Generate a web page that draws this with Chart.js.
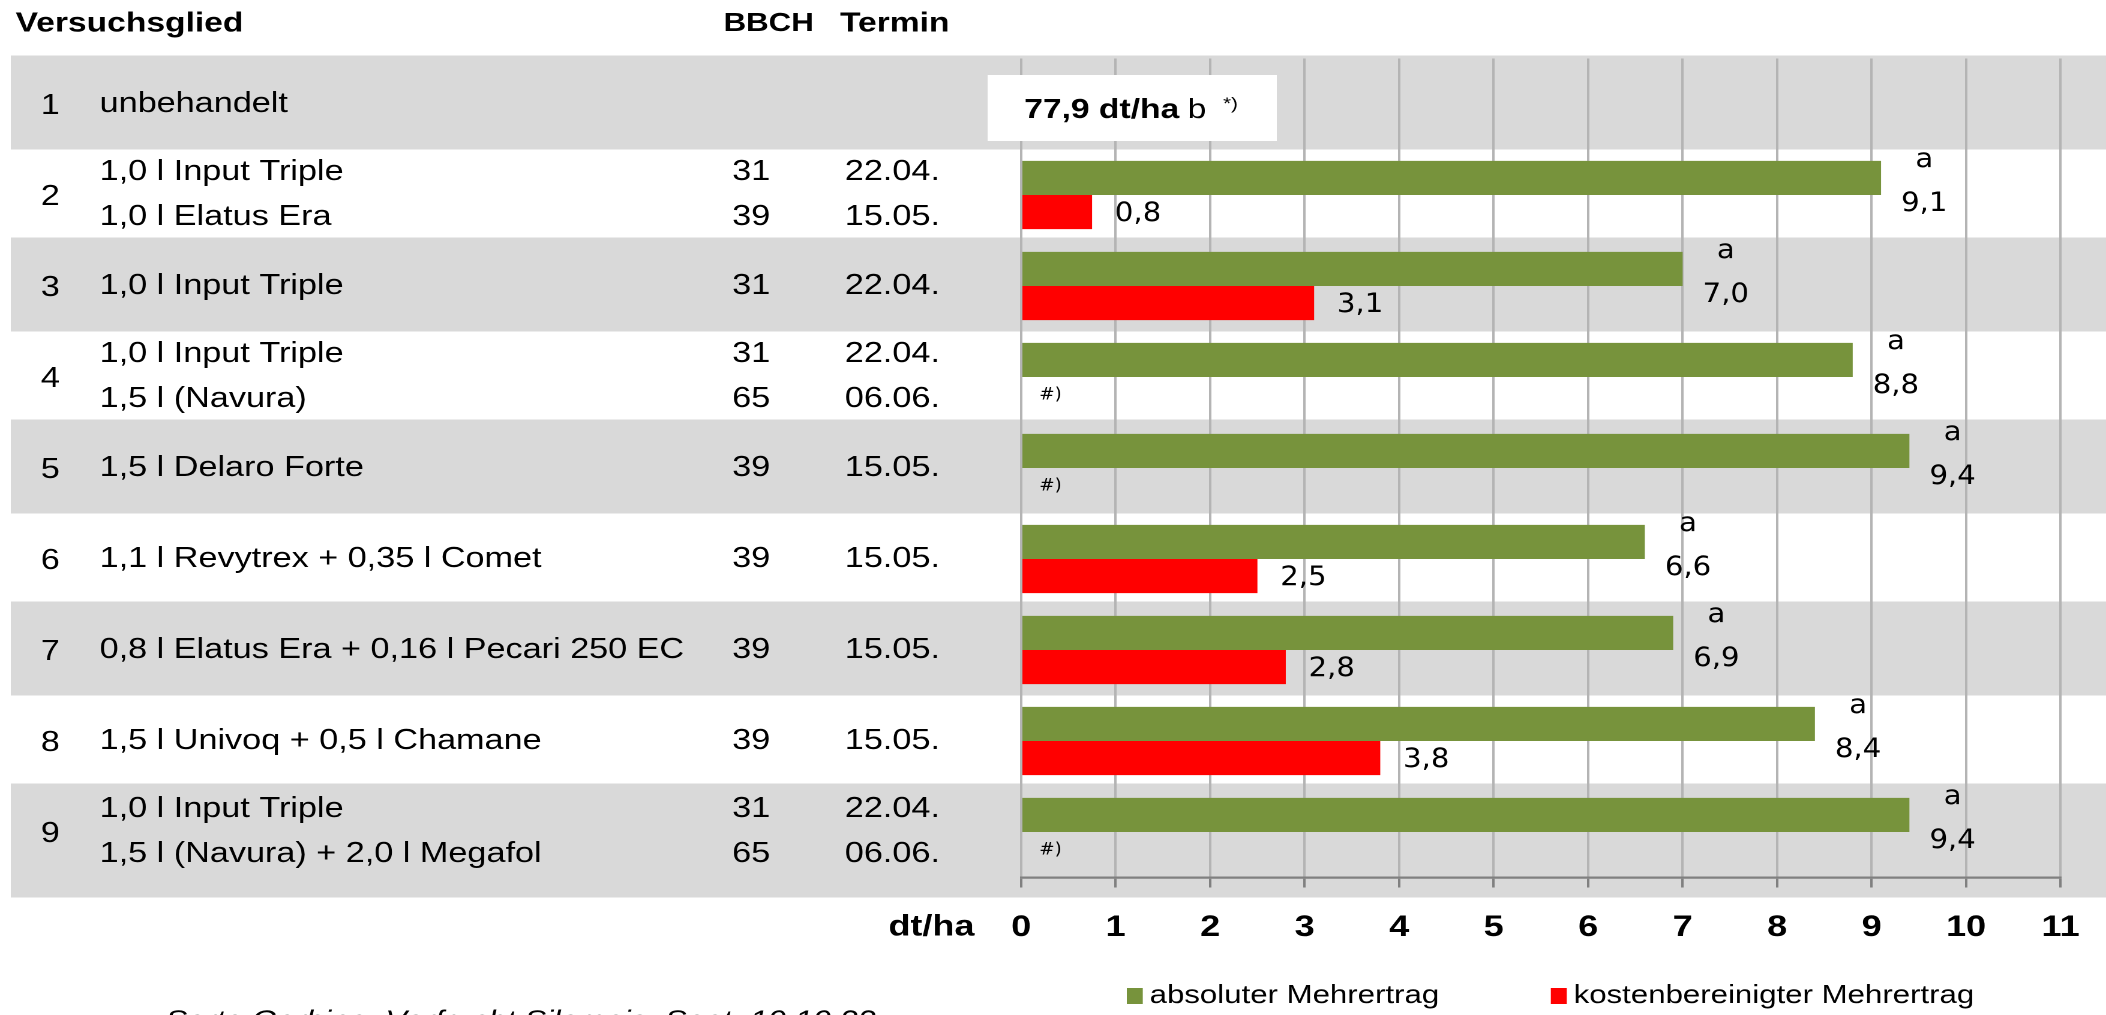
<!DOCTYPE html>
<html lang="de">
<head>
<meta charset="utf-8">
<title>Mehrertrag Fungizidversuch</title>
<script src="https://cdn.jsdelivr.net/npm/chart.js@4.4.0/dist/chart.umd.min.js"></script>
<style>
    html, body { margin: 0; padding: 0; background: #fff; overflow: hidden; }
    #wrap { width: 1755px; height: 1015px; transform: scaleX(1.2); transform-origin: 0 0; }
</style>
</head>
<body>
<div id="wrap"><canvas id="mehrertragChart" width="1755" height="1015"></canvas></div>
<script>
// Versuchsglieder
const glieder = ['1', '2', '3', '4', '5', '6', '7', '8', '9'];
const mittel = [
    ['unbehandelt'],
    ['1,0 l Input Triple', '1,0 l Elatus Era'],
    ['1,0 l Input Triple'],
    ['1,0 l Input Triple', '1,5 l (Navura)'],
    ['1,5 l Delaro Forte'],
    ['1,1 l Revytrex + 0,35 l Comet'],
    ['0,8 l Elatus Era + 0,16 l Pecari 250 EC'],
    ['1,5 l Univoq + 0,5 l Chamane'],
    ['1,0 l Input Triple', '1,5 l (Navura) + 2,0 l Megafol']
];
const bbch = [[], ['31', '39'], ['31'], ['31', '65'], ['39'], ['39'], ['39'], ['39'], ['31', '65']];
const termin = [[], ['22.04.', '15.05.'], ['22.04.'], ['22.04.', '06.06.'], ['15.05.'], ['15.05.'], ['15.05.'], ['15.05.'], ['22.04.', '06.06.']];

// Mehrertrag in dt/ha
const absoluterMehrertrag = [null, 9.1, 7.0, 8.8, 9.4, 6.6, 6.9, 8.4, 9.4];
const kostenMehrertrag = [null, 0.75, 3.1, null, null, 2.5, 2.8, 3.8, null];
const signifikanz = ['', 'a', 'a', 'a', 'a', 'a', 'a', 'a', 'a'];
const fussnote = ['', '', '', '#)', '#)', '', '', '', '#)'];

// Kontrolle
const ertragKontrolle = 77.9;
const signifikanzKontrolle = 'b';

const xTicks = [0, 1, 2, 3, 4, 5, 6, 7, 8, 9, 10, 11];
const quelle = 'Sorte Gerhine, Vorfrucht Silomais, Saat: 10.10.22';

const SANS = "'Liberation Sans', Arial, sans-serif";
const NARROW = "'Liberation Sans Narrow', 'Arial Narrow', 'DejaVu Sans Condensed', sans-serif";

function fmt(v) {
    return v.toFixed(1).replace('.', ',');
}

function text(ctx, s, x, y, font, align, baseline) {
    ctx.font = font;
    ctx.textAlign = align || 'left';
    ctx.textBaseline = baseline || 'middle';
    ctx.fillStyle = '#000';
    ctx.fillText(s, x, y);
}

const tabellePlugin = {
    id: 'versuchsTabelle',
    beforeDraw(chart) {
        const { ctx, scales: { x, y } } = chart;
        const area = chart.chartArea;
        ctx.save();

        // graue Zeilen
        ctx.fillStyle = '#d9d9d9';
        glieder.forEach((g, i) => {
            if (i % 2) return;
            const c = y.getPixelForValue(i);
            const top = c - 48.5;
            const bottom = i === glieder.length - 1 ? area.bottom + 20 : c + 45.5;
            ctx.fillRect(9, top, chart.width - 9, bottom - top);
        });

        // Kopf
        const kopf = 'bold 28px ' + SANS;
        text(ctx, 'Versuchsglied', 13, 24, kopf);
        text(ctx, 'BBCH', 603, 24, 'bold 26px ' + SANS);
        text(ctx, 'Termin', 700, 24, kopf);

        // Zeilen
        const zeile = '28.5px ' + SANS;
        glieder.forEach((g, i) => {
            const c = y.getPixelForValue(i);
            const zwei = mittel[i].length > 1;
            text(ctx, g, 34, c + 2, zeile);
            mittel[i].forEach((m, k) => {
                const yy = zwei ? c - 23 + k * 45 : c;
                text(ctx, m, 83, yy, zeile);
                if (bbch[i][k]) text(ctx, bbch[i][k], 626, yy, zeile, 'center');
                if (termin[i][k]) text(ctx, termin[i][k], 704, yy, zeile);
            });
        });

        // Achsentitel
        text(ctx, 'dt/ha', 812, 927, 'bold 30px ' + SANS, 'right');
        ctx.restore();
    },
    afterDatasetsDraw(chart) {
        const { ctx, scales: { x, y } } = chart;
        ctx.save();

        // Beschriftungen der Balken
        glieder.forEach((g, i) => {
            const c = y.getPixelForValue(i);
            const abs = absoluterMehrertrag[i];
            const kost = kostenMehrertrag[i];
            if (abs !== null) {
                const xe = x.getPixelForValue(abs) + 36;
                text(ctx, signifikanz[i], xe, c - 35, '27px ' + NARROW, 'center');
                text(ctx, fmt(abs), xe, c + 9, '27px ' + NARROW, 'center');
            }
            if (kost !== null) {
                text(ctx, fmt(kost), x.getPixelForValue(kost) + 19, c + 19, '27px ' + NARROW);
            }
            if (fussnote[i]) {
                text(ctx, fussnote[i], x.getPixelForValue(0) + 15, c + 18, '17px ' + NARROW);
            }
        });

        // Kontrolle (unbehandelt)
        const c0 = y.getPixelForValue(0);
        const x0 = x.getPixelForValue(0);
        ctx.fillStyle = '#fff';
        ctx.fillRect(x0 - 28, c0 - 29, 241, 66);
        const tx = x0 + 2.5;
        const base = c0 + 14;
        const fett = 'bold 28px ' + SANS;
        const teil1 = fmt(ertragKontrolle) + ' dt/ha';
        text(ctx, teil1, tx, base, fett, 'left', 'alphabetic');
        ctx.font = fett;
        const xb = tx + ctx.measureText(teil1).width + 7;
        text(ctx, signifikanzKontrolle, xb, base, '28px ' + SANS, 'left', 'alphabetic');
        ctx.font = '28px ' + SANS;
        const xs = xb + ctx.measureText(signifikanzKontrolle).width + 14;
        text(ctx, '*)', xs, base - 9, '17px ' + SANS, 'left', 'alphabetic');

        // Legende
        let lx = 939;
        chart.data.datasets.forEach(ds => {
            ctx.fillStyle = ds.backgroundColor;
            ctx.fillRect(lx, 988, 13.3, 16);
            text(ctx, ds.label, lx + 19, 996, '26px ' + SANS);
            ctx.font = '26px ' + SANS;
            lx += 19 + ctx.measureText(ds.label).width + 93;
        });

        // Quelle
        text(ctx, quelle, 138, 1029, 'italic 27px ' + SANS, 'left', 'alphabetic');
        ctx.restore();
    }
};

const canvasEl = document.getElementById('mehrertragChart');
new Chart(canvasEl.getContext('2d'), {
    type: 'bar',
    data: {
        labels: glieder,
        datasets: [{
            label: 'absoluter Mehrertrag',
            data: absoluterMehrertrag,
            backgroundColor: '#77933c',
            categoryPercentage: 0.75,
            barPercentage: 1.0
        }, {
            label: 'kostenbereinigter Mehrertrag',
            data: kostenMehrertrag,
            backgroundColor: '#ff0000',
            categoryPercentage: 0.75,
            barPercentage: 1.0
        }]
    },
    options: {
        indexAxis: 'y',
        responsive: false,
        devicePixelRatio: 2,
        animation: false,
        layout: { padding: { left: 851, right: 36.7, top: 58.5, bottom: 0 } },
        scales: {
            x: {
                min: xTicks[0],
                max: xTicks[xTicks.length - 1],
                afterBuildTicks: s => { s.ticks = xTicks.map(v => ({ value: v })); },
                afterFit: s => { s.height = 137.5; },
                ticks: {
                    color: '#000',
                    padding: 22,
                    maxRotation: 0,
                    autoSkip: false,
                    font: { family: SANS, size: 30, weight: 'bold' }
                },
                grid: {
                    color: '#b4b4b4',
                    lineWidth: 2,
                    tickColor: '#808080',
                    tickLength: 10,
                    tickWidth: 2
                },
                border: { color: '#808080', width: 2.2 }
            },
            y: { display: false }
        },
        plugins: {
            legend: { display: false },
            tooltip: { enabled: false }
        }
    },
    plugins: [tabellePlugin]
});
</script>
</body>
</html>
